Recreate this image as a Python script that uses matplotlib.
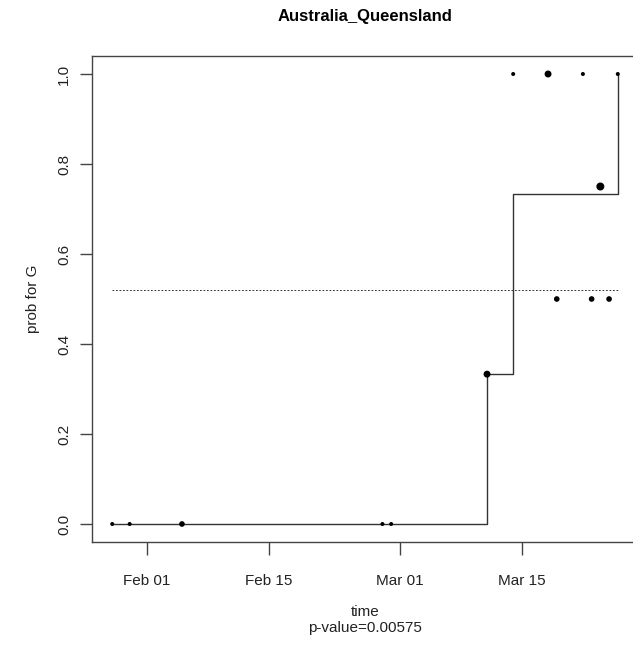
import matplotlib
matplotlib.use("Agg")
import matplotlib.pyplot as plt
import matplotlib.dates as mdates
import numpy as np
import datetime as dt

plt.rcParams['font.family'] = ['Liberation Sans', 'DejaVu Sans']

# data
point_dates = ["2020-01-28", "2020-01-30", "2020-02-05", "2020-02-28", "2020-02-29",
               "2020-03-11", "2020-03-14", "2020-03-18", "2020-03-19", "2020-03-22",
               "2020-03-23", "2020-03-24", "2020-03-25", "2020-03-26"]
point_probs = [0, 0, 0, 0, 0, 0.333, 1.0, 1.0, 0.5, 1.0, 0.5, 0.75, 0.5, 1.0]
point_counts = [1, 1, 2, 1, 1, 3, 1, 3, 2, 1, 2, 4, 2, 1]

step_dates = ["2020-01-28", "2020-03-11", "2020-03-14", "2020-03-26"]
step_vals = [0, 0.333, 0.733, 1.0]

mean_prob = 0.519
mean_range = ["2020-01-28", "2020-03-26"]

xtick_dates = ["2020-02-01", "2020-02-15", "2020-03-01", "2020-03-15"]
ytick_vals = [0.0, 0.2, 0.4, 0.6, 0.8, 1.0]

title = "Australia_Queensland"
xlabel = "time\np-value=0.00575"
ylabel = "prob for G"

def d(s):
    return dt.datetime.strptime(s, "%Y-%m-%d")

W, H = 633, 649
fig = plt.figure(figsize=(W/100, H/100), dpi=100)
ax = fig.add_axes([92/W, 1-542/H, (638-92)/W, (542-56)/H])

pd_ = [d(s) for s in point_dates]
sd = [d(s) for s in step_dates]

ax.plot(sd, step_vals, drawstyle='steps-post', color='#333333', lw=1.0, zorder=2)
ax.plot([d(mean_range[0]), d(mean_range[1])], [mean_prob, mean_prob],
        ls=(0, (1.8, 1.8)), color='#333333', lw=0.7, zorder=2)
sizes = [(4.0*np.sqrt(n)*0.72)**2 for n in point_counts]
ax.scatter(pd_, point_probs, s=sizes, color='black', zorder=3, linewidths=0)

x0 = mdates.date2num(d(point_dates[0])); x1 = mdates.date2num(d(point_dates[-1]))
pad = (x1 - x0) * 0.04
ax.set_xlim(x0 - pad, x1 + pad)
ax.set_ylim(-0.04, 1.04)

ax.set_xticks([mdates.date2num(d(s)) for s in xtick_dates])
ax.xaxis.set_major_formatter(mdates.DateFormatter('%b %d'))
ax.set_yticks(ytick_vals)
ax.set_yticklabels([f"{v:.1f}" for v in ytick_vals], rotation=90, va='center')

for sp in ax.spines.values():
    sp.set_color('#444444')
    sp.set_linewidth(1.0)
ax.tick_params(axis='both', length=9, width=1.0, color='#444444', labelsize=11,
               labelcolor='#222222')
ax.tick_params(axis='x', pad=14)
ax.tick_params(axis='y', pad=6)

ax.set_title(title, fontsize=12, fontweight='bold', pad=25)
ax.set_xlabel(xlabel, fontsize=11, labelpad=12, linespacing=1.25, color='#222222')
ax.set_ylabel(ylabel, fontsize=11, labelpad=12, color='#222222')

fig.savefig("out.png", dpi=100)
